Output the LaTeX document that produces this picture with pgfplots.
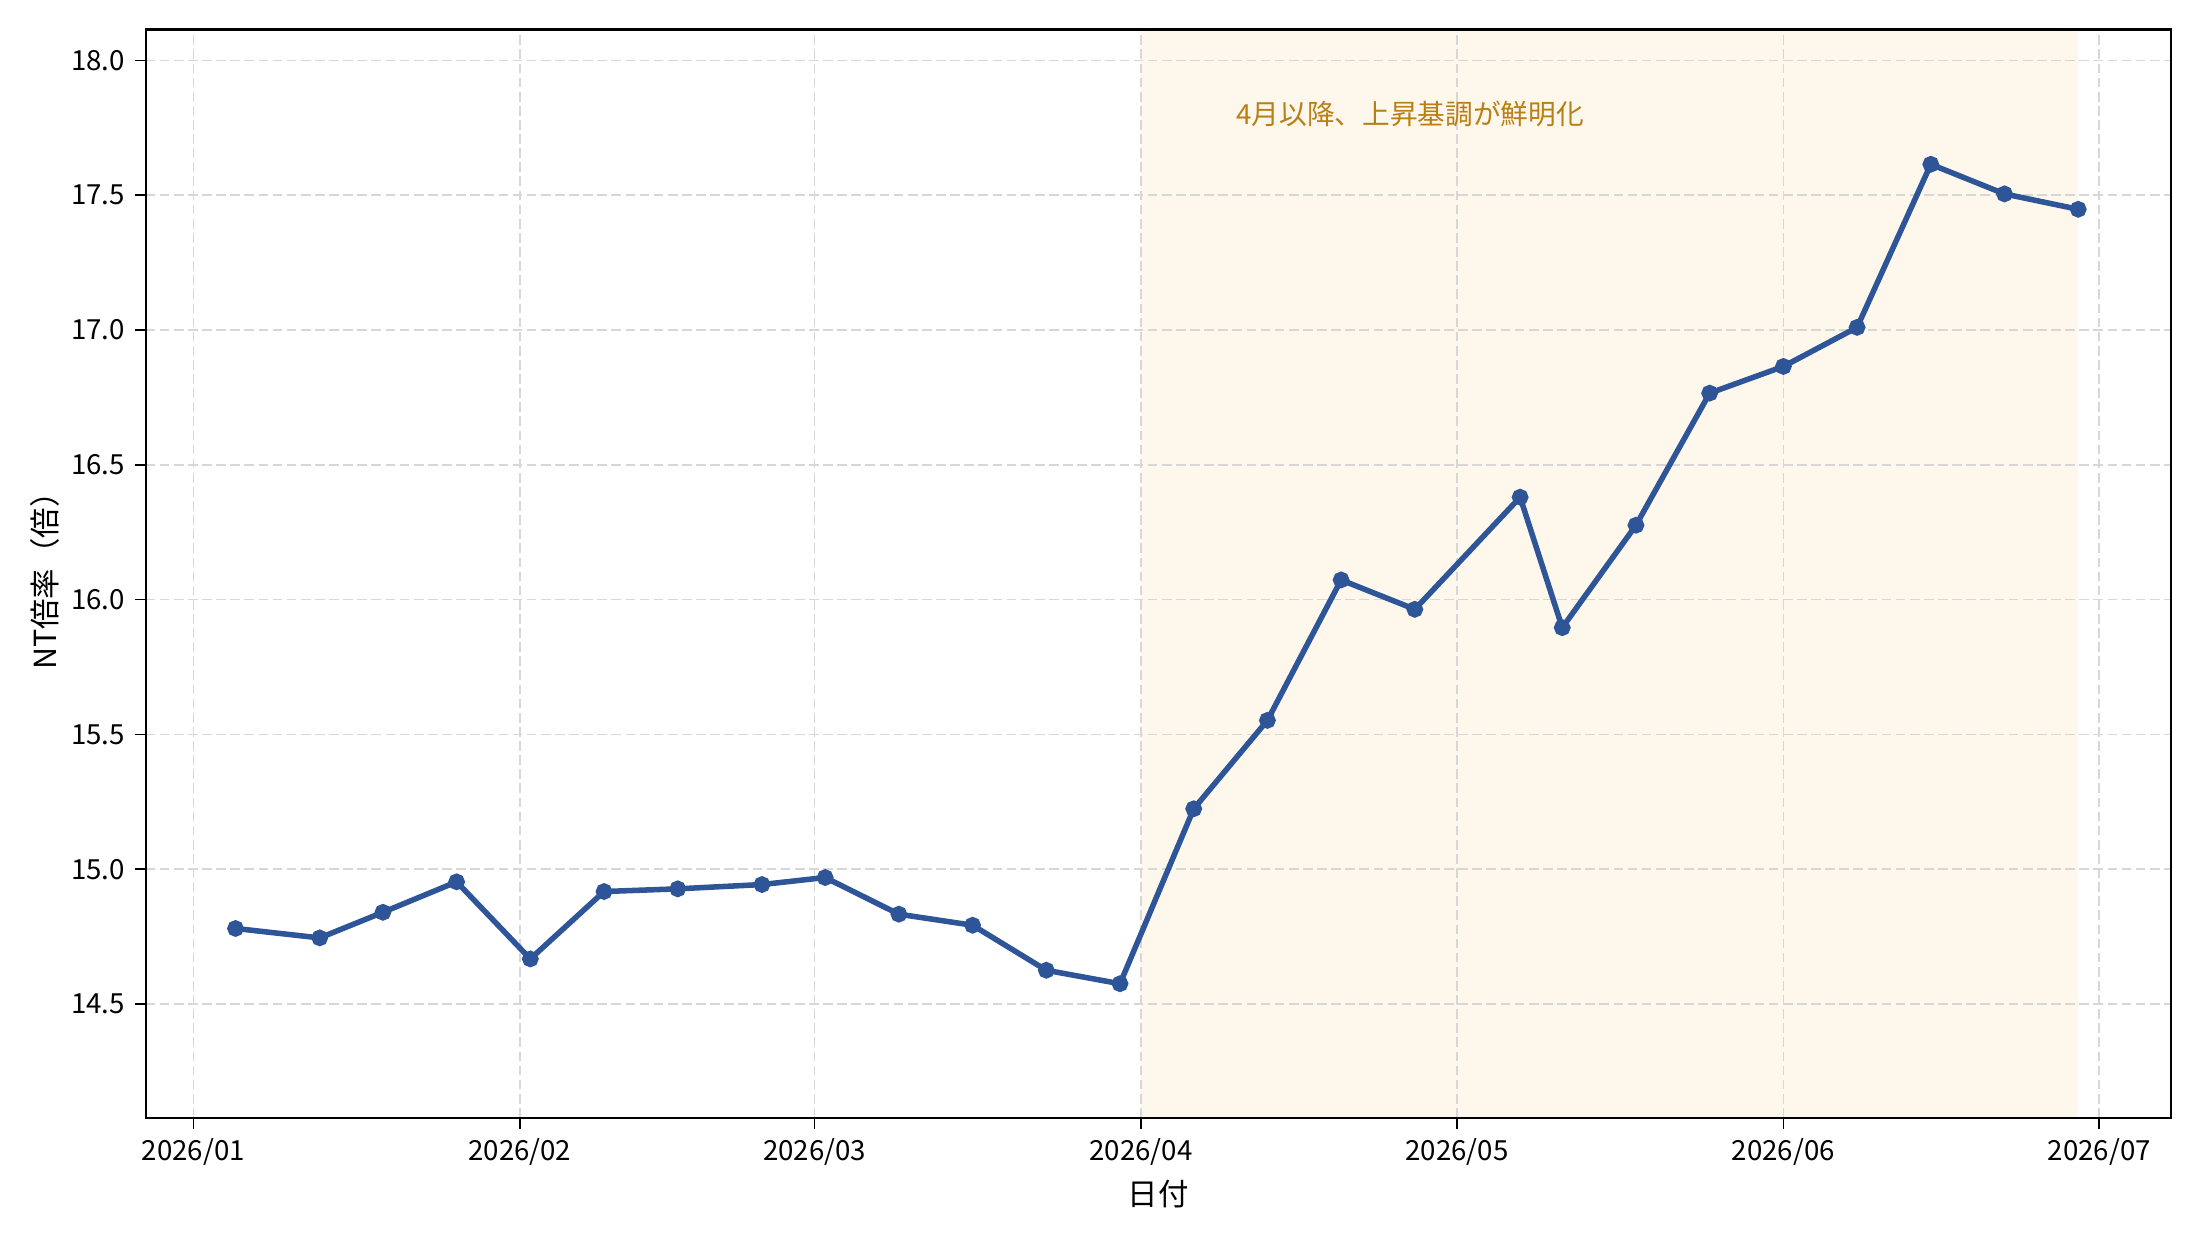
\documentclass[border=0pt]{standalone}
\usepackage{pgfplots}
\pgfplotsset{compat=1.18}
\usepackage{fontspec}
\setmainfont{Noto Sans CJK JP}
\usetikzlibrary{calc}
\definecolor{linec}{RGB}{45,85,151}
\definecolor{shade}{RGB}{253,247,236}
\definecolor{annot}{RGB}{184,128,20}
\definecolor{gridc}{RGB}{215,215,215}
\begin{document}
\begin{tikzpicture}
\begin{axis}[
  scale only axis,
  width=25.72cm, height=13.82cm,
  xmin=-4.53, xmax=187.8,
  ymin=14.078, ymax=18.115,
  xtick={0,31,59,90,120,151,181},
  xticklabels={2026/01,2026/02,2026/03,2026/04,2026/05,2026/06,2026/07},
  ytick={14.5,15,15.5,16,16.5,17,17.5,18},
  yticklabel style={/pgf/number format/.cd,fixed,fixed zerofill,precision=1},
  /pgf/number format/assume math mode=true,
  tick label style={font=\fontsize{10}{12}\selectfont},
  label style={font=\fontsize{11}{13}\selectfont},
  xlabel={日付}, ylabel={NT倍率（倍）},
  xlabel style={yshift=0.5mm},
  ylabel style={yshift=-0.9mm},
  grid=major,
  major grid style={gridc, dash pattern=on 3.5pt off 1.6pt, line width=0.6pt},
  tick align=outside, tick pos=left,
  major tick length=4pt,
  every tick/.style={black, line width=0.6pt},
  axis line style={line width=0.8pt},
  clip=true,
  set layers,
]
\addplot[draw=none, fill=shade, on layer=axis background] coordinates {(90,14.078) (179,14.078) (179,18.115) (90,18.115)} \closedcycle;
\addplot[linec, line width=2pt, mark=*, mark size=2pt, mark options={fill=linec, draw=linec}] coordinates {
(4,14.780) (12,14.745) (18,14.840) (25,14.953) (32,14.667) (39,14.917)
(46,14.927) (54,14.943) (60,14.969) (67,14.833) (74,14.792) (81,14.625)
(88,14.575) (95,15.224) (102,15.552) (109,16.073) (116,15.964) (126,16.380)
(130,15.896) (137,16.276) (144,16.766) (151,16.865) (158,17.010) (165,17.615)
(172,17.505) (179,17.448)};
\node[anchor=west, text=annot, font=\fontsize{10}{12}\selectfont, inner sep=0pt] at (axis cs:99,17.80) {4月以降、上昇基調が鮮明化};
\end{axis}
\pgfresetboundingbox
\path ([shift={(-1.85cm,-1.55cm)}]current axis.south west) rectangle ([shift={(0.37cm,0.375cm)}]current axis.north east);
\end{tikzpicture}
\end{document}
